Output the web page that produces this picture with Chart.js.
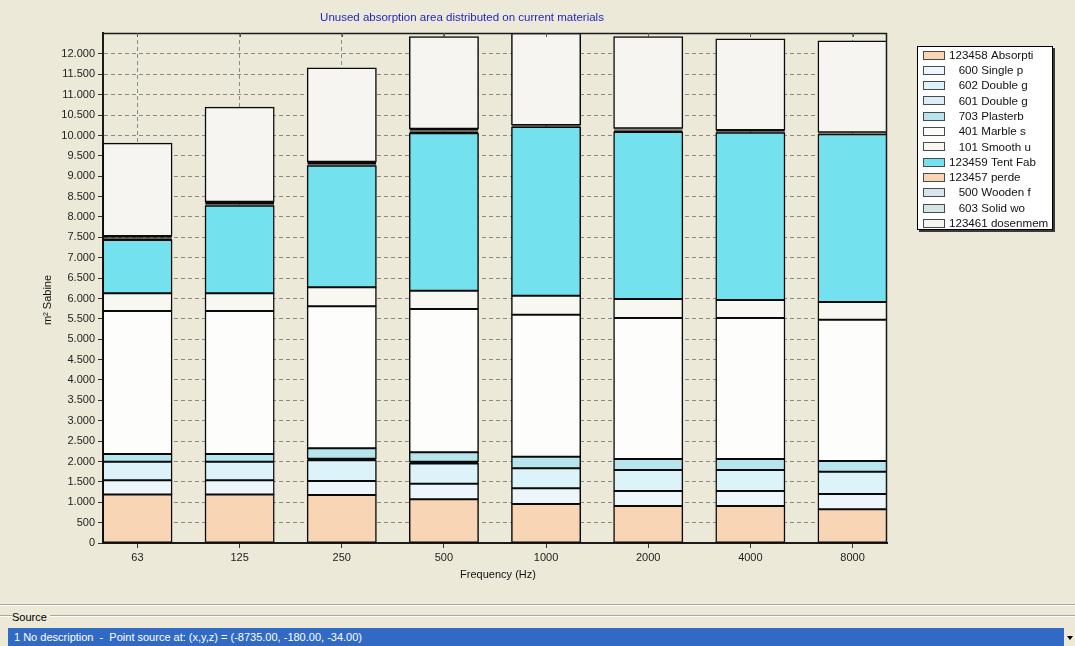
<!DOCTYPE html>
<html>
<head>
<meta charset="utf-8">
<script src="https://cdn.jsdelivr.net/npm/chart.js@4.4.1/dist/chart.umd.min.js"></script>
<style>
  html, body { margin: 0; padding: 0; width: 1075px; height: 646px; overflow: hidden; background: #ECE9D8;
    font-family: "Liberation Sans", Arial, sans-serif; }
  #panel { position: absolute; left: 0; top: 0; width: 1075px; height: 604px; }
  #chart { display: block; }
  .rule { position: absolute; left: 0; width: 1075px; height: 1px; }
  #srcLabel { position: absolute; left: 12px; top: 611px; font-size: 11px; color: #000; background: #ECE9D8; padding-right: 3px; }
  #combo { position: absolute; left: 8px; top: 628px; width: 1056px; height: 18px; background: #316AC5;
    color: #fff; font-size: 11px; line-height: 18px; box-sizing: border-box; padding-left: 6px; white-space: pre; }
  #drop { position: absolute; left: 1064px; top: 628px; width: 11px; height: 18px; background: #ECE9D8; }
  #drop:after { content: ""; position: absolute; left: 3px; top: 8px; border-left: 3.5px solid transparent;
    border-right: 3.5px solid transparent; border-top: 4px solid #000; }
</style>
</head>
<body>
<div id="panel"><canvas id="chart" width="1075" height="604"></canvas></div>
<div class="rule" style="top:604px;background:#ACA899"></div>
<div class="rule" style="top:605px;background:#fff"></div>
<div class="rule" style="top:615px;background:#ACA899"></div>
<div class="rule" style="top:616px;background:#fff"></div>
<div id="srcLabel">Source</div>
<div id="combo">1 No description  -  Point source at: (x,y,z) = (-8735.00, -180.00, -34.00)</div>
<div id="drop"></div>
<script>
// Octave-band centre frequencies (x axis)
const frequencies = ['63', '125', '250', '500', '1000', '2000', '4000', '8000'];

// Y axis tick values (m² Sabine)
const yTickValues = [0, 500, 1000, 1500, 2000, 2500, 3000, 3500, 4000, 4500, 5000, 5500, 6000,
  6500, 7000, 7500, 8000, 8500, 9000, 9500, 10000, 10500, 11000, 11500, 12000];
const yAxisMax = 12515;

// Material names, stacked bottom to top
const materialNames = ['123458 Absorpti', '   600 Single p', '   602 Double g', '   601 Double g',
  '   703 Plasterb', '   401 Marble s', '   101 Smooth u', '123459 Tent Fab', '123457 perde',
  '   500 Wooden f', '   603 Solid wo', '123461 dosenmem'];

// Unused absorption area per material and band (m² Sabine)
const absorpti  = [1190, 1190, 1180, 1072,  957,  908,  908,  826];
const singleP   = [ 350,  350,  341,  383,  385,  368,  368,  376];
const double602 = [ 455,  455,  509,  495,  491,  515,  515,  548];
const double601 = [   0,    0,   40,   45,    0,    0,    0,    0];
const plasterb  = [ 190,  190,  253,  231,  285,  270,  270,  262];
const marble    = [3508, 3508, 3485, 3516, 3485, 3460, 3460, 3468];
const smooth    = [ 435,  435,  467,  450,  466,  467,  442,  434];
const tentFab   = [1308, 2150, 2984, 3862, 4140, 4098, 4106, 4115];
const perde     = [  33,   33,   33,   38,   16,   30,   22,   17];
const wooden    = [  33,   33,   33,   38,   16,   30,   22,   16];
const solidWo   = [  33,   31,   31,   37,   16,   29,   22,   16];
const dosenmem  = [2274, 2315, 2300, 2258, 2253, 2250, 2233, 2241];

const seriesValues = [absorpti, singleP, double602, double601, plasterb, marble, smooth,
  tentFab, perde, wooden, solidWo, dosenmem];
const seriesColors = ['#F8D5B4', '#EDF6FA', '#DCF4F9', '#DDEDF6', '#B7E5EE', '#FDFDFB',
  '#F9F7F1', '#74E1EF', '#F8D5B4', '#D7E5EE', '#D4E6E1', '#F7F5F2'];
// thin materials are drawn without inflation so they read as solid outline bands
const thinSeries = [3, 8, 9, 10];

const datasets = seriesValues.map((vals, i) => ({
  label: materialNames[i],
  data: vals.map((v, k) => ({ x: k, y: v })),
  backgroundColor: seriesColors[i],
  borderColor: '#0a0a0a',
  borderWidth: 1.5,
  borderSkipped: false,
  inflateAmount: thinSeries.includes(i) ? 0 : 0.5,
  categoryPercentage: 0.675,
  barPercentage: 1
}));

function formatThousands(v) {
  if (v < 1000) return String(v);
  const rest = String(v % 1000).padStart(3, '0');
  return Math.floor(v / 1000) + '.' + rest;
}

const FONT = '"Liberation Sans", Arial, sans-serif';

// Title, axis titles, plot frame and the boxed legend
const decorations = {
  id: 'decorations',
  afterDatasetsDraw(chart) {
    const { ctx, chartArea: a } = chart;
    ctx.save();
    ctx.strokeStyle = '#1a1a1a';
    ctx.lineWidth = 1.5;
    ctx.beginPath();
    ctx.moveTo(a.left, a.top + 0.5);
    ctx.lineTo(a.right - 0.5, a.top + 0.5);
    ctx.lineTo(a.right - 0.5, a.bottom);
    ctx.stroke();
    // small inward ticks along the top edge
    const xs = chart.scales.x;
    ctx.lineWidth = 1;
    ctx.strokeStyle = '#555';
    xs.ticks.forEach(t => {
      const px = Math.round(xs.getPixelForValue(t.value)) + 0.5;
      ctx.beginPath(); ctx.moveTo(px, a.top); ctx.lineTo(px, a.top + 4); ctx.stroke();
    });
    ctx.restore();
  },
  afterDraw(chart) {
    const ctx = chart.ctx;
    ctx.save();
    // chart title
    ctx.fillStyle = '#1f1fc4';
    ctx.font = '11.5px ' + FONT;
    ctx.textAlign = 'center';
    ctx.textBaseline = 'middle';
    ctx.fillText('Unused absorption area distributed on current materials', 462, 18);
    // axis titles
    ctx.fillStyle = '#111';
    ctx.font = '11px ' + FONT;
    ctx.fillText('Frequency (Hz)', 498, 575);
    ctx.translate(48, 300);
    ctx.rotate(-Math.PI / 2);
    ctx.fillText('m² Sabine', 0, 0);
    ctx.restore();

    // legend box
    ctx.save();
    const x0 = 917, y0 = 46, w = 136, h = 184;
    ctx.fillStyle = '#3a3a3a';
    ctx.fillRect(x0 + 2, y0 + 2, w, h);
    ctx.fillStyle = '#ffffff';
    ctx.fillRect(x0, y0, w, h);
    ctx.strokeStyle = '#000';
    ctx.lineWidth = 1;
    ctx.strokeRect(x0 + 0.5, y0 + 0.5, w - 1, h - 1);
    ctx.font = '11.6px ' + FONT;
    ctx.textAlign = 'left';
    ctx.textBaseline = 'middle';
    chart.data.datasets.forEach((ds, i) => {
      const cy = 55 + i * 15.3;
      ctx.fillStyle = ds.backgroundColor;
      ctx.fillRect(923, Math.round(cy - 4.5), 22, 9);
      ctx.strokeStyle = '#4a4a4a';
      ctx.strokeRect(923.5, Math.round(cy - 4.5) + 0.5, 21, 8);
      ctx.fillStyle = '#111';
      ctx.fillText(ds.label, 949, cy + 0.5);
    });
    ctx.restore();
  }
};

new Chart(document.getElementById('chart'), {
  type: 'bar',
  data: { datasets },
  options: {
    responsive: false,
    animation: false,
    devicePixelRatio: 1,
    layout: { padding: { left: 0, top: 33, right: 188, bottom: 0 } },
    plugins: { legend: { display: false }, tooltip: { enabled: false }, title: { display: false } },
    scales: {
      x: {
        type: 'linear',
        stacked: true,
        offset: false,
        min: -0.3376,
        max: 7.3376,
        afterBuildTicks: s => { s.ticks = frequencies.map((f, i) => ({ value: i })); },
        afterFit: s => { s.height = 61; },
        ticks: {
          autoSkip: false, maxRotation: 0, padding: 3, color: '#222',
          font: { family: FONT, size: 11 },
          callback: v => frequencies[v]
        },
        grid: { offset: false, color: '#8a8a8a', borderDash: [4, 3], tickLength: 5, tickColor: '#333', tickBorderDash: [] },
        border: { color: '#1a1a1a', width: 2, dash: [4, 3] }
      },
      y: {
        stacked: true,
        min: 0,
        max: yAxisMax,
        afterBuildTicks: s => { s.ticks = yTickValues.map(v => ({ value: v })); },
        afterFit: s => { s.width = 103; },
        ticks: {
          autoSkip: false, padding: 3, color: '#222',
          font: { family: FONT, size: 11 },
          callback: v => formatThousands(v)
        },
        grid: { color: '#8a8a8a', borderDash: [4, 3], tickLength: 5, tickColor: '#333', tickBorderDash: [] },
        border: { color: '#1a1a1a', width: 2, dash: [4, 3] }
      }
    }
  },
  plugins: [decorations]
});
</script>
</body>
</html>
